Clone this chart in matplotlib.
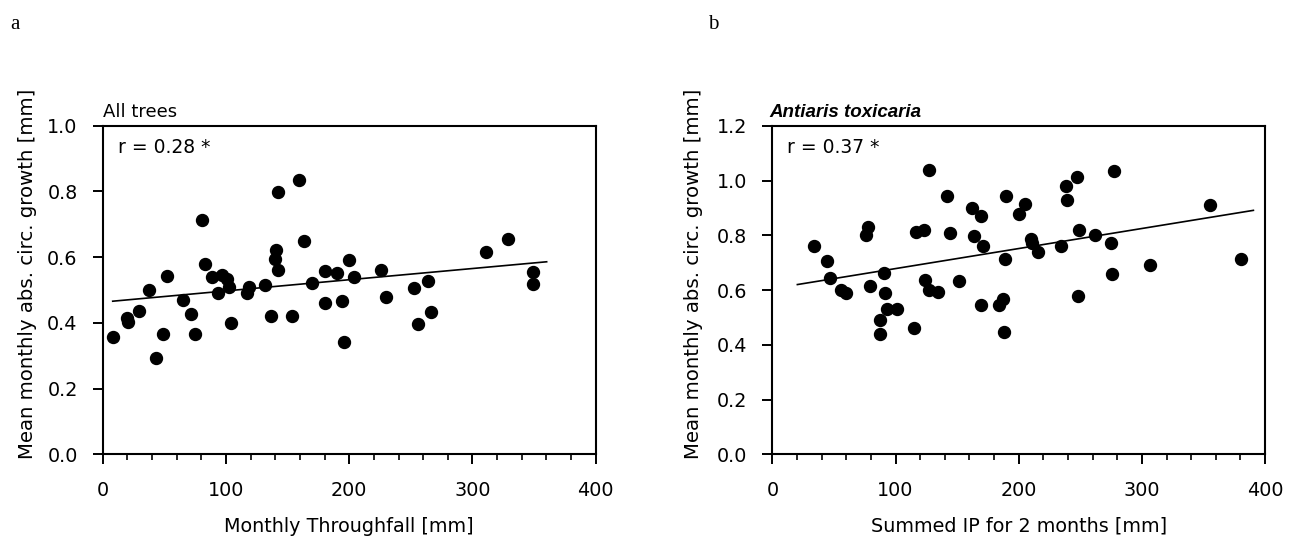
import numpy as np
import matplotlib
matplotlib.use("Agg")
import matplotlib.pyplot as plt
from matplotlib.ticker import MultipleLocator

plt.rcParams['font.family'] = ['DejaVu Sans']

# panel a: all trees
tf_x = [8.1, 20.0, 20.6, 29.7, 37.3, 43.0, 48.7, 51.9, 65.4, 71.4, 74.9, 80.3,
        82.8, 88.7, 93.3, 96.5, 100.6, 102.8, 104.1, 117.1, 118.7, 131.4, 136.6,
        139.8, 140.4, 142.5, 142.3, 153.3, 159.0, 163.4, 169.6, 180.1, 180.4,
        190.1, 194.2, 196.1, 199.9, 203.9, 225.8, 229.9, 252.9, 255.6, 264.0,
        266.1, 311.0, 328.9, 349.4, 349.4]
tf_y = [0.358, 0.416, 0.404, 0.437, 0.500, 0.292, 0.365, 0.544, 0.470, 0.427,
        0.367, 0.714, 0.579, 0.540, 0.490, 0.545, 0.534, 0.510, 0.399, 0.492,
        0.508, 0.514, 0.422, 0.593, 0.622, 0.561, 0.799, 0.422, 0.834, 0.650,
        0.521, 0.461, 0.557, 0.553, 0.468, 0.342, 0.592, 0.541, 0.561, 0.479,
        0.505, 0.396, 0.526, 0.432, 0.616, 0.655, 0.556, 0.518]
tf_fit_x = [8.1, 360.2]
tf_fit_y = [0.466, 0.586]

# panel b: Antiaris toxicaria
ip_x = [34.1, 44.7, 47.1, 55.5, 59.8, 76.0, 77.9, 79.6, 87.4, 87.7, 90.9, 91.7,
        93.1, 101.2, 115.0, 116.6, 123.4, 123.7, 127.2, 127.5, 134.2, 141.8,
        144.5, 151.8, 161.8, 164.0, 169.4, 169.4, 171.3, 183.8, 187.0, 188.1,
        189.2, 189.4, 200.5, 204.9, 210.0, 210.6, 215.7, 234.1, 238.4, 239.5,
        247.1, 248.2, 249.0, 262.0, 275.0, 275.8, 277.7, 306.4, 355.6, 380.5]
ip_y = [0.762, 0.705, 0.644, 0.600, 0.588, 0.800, 0.829, 0.615, 0.489, 0.439,
        0.662, 0.589, 0.530, 0.529, 0.460, 0.811, 0.820, 0.635, 1.037, 0.601,
        0.593, 0.943, 0.809, 0.632, 0.901, 0.796, 0.872, 0.544, 0.762, 0.545,
        0.568, 0.445, 0.713, 0.945, 0.878, 0.915, 0.787, 0.772, 0.738, 0.760,
        0.979, 0.930, 1.011, 0.579, 0.821, 0.801, 0.770, 0.660, 1.033, 0.690,
        0.910, 0.712]
ip_fit_x = [20.3, 390.5]
ip_fit_y = [0.620, 0.891]

fig = plt.figure(figsize=(12.97, 5.39), dpi=100)
ax1 = fig.add_axes([0.0792, 0.1571, 0.3801, 0.6096])
ax2 = fig.add_axes([0.5955, 0.1571, 0.3799, 0.6096])


def style(ax, ymax, xlabel, ylabel_x):
    ax.set_xlim(0, 400)
    ax.set_ylim(0, ymax)
    ax.xaxis.set_major_locator(MultipleLocator(100))
    ax.xaxis.set_minor_locator(MultipleLocator(20))
    ax.yaxis.set_major_locator(MultipleLocator(0.2))
    ax.yaxis.set_major_formatter(plt.FormatStrFormatter('%.1f'))
    for s in ax.spines.values():
        s.set_linewidth(1.5)
    ax.tick_params(which='major', direction='out', length=7.5, width=1.4,
                   labelsize=13.8)
    ax.tick_params(which='minor', direction='out', length=4, width=1.2)
    ax.tick_params(axis='x', pad=12)
    ax.tick_params(axis='y', pad=10.5)
    ax.set_xlabel(xlabel, fontsize=13.8)
    ax.xaxis.set_label_coords(0.5, -0.19)
    ax.set_ylabel('Mean monthly abs. circ. growth [mm]', fontsize=14.2)
    ax.yaxis.set_label_coords(ylabel_x, 0.549)


ax1.plot(tf_x, tf_y, 'o', color='black', markersize=8.6, zorder=3)
ax1.plot(tf_fit_x, tf_fit_y, color='black', linewidth=1.2)
style(ax1, 1.0, 'Monthly Throughfall [mm]', -0.133)
ax1.text(0.0, 1.015, 'All trees', transform=ax1.transAxes, fontsize=13,
         va='bottom', ha='left')
ax1.text(0.03, 0.935, 'r = 0.28 *', transform=ax1.transAxes, fontsize=13.5,
         va='center', ha='left')

ax2.plot(ip_x, ip_y, 'o', color='black', markersize=8.6, zorder=3)
ax2.plot(ip_fit_x, ip_fit_y, color='black', linewidth=1.2)
style(ax2, 1.2, 'Summed IP for 2 months [mm]', -0.141)
ax2.text(-0.006, 1.015, 'Antiaris toxicaria', transform=ax2.transAxes,
         fontsize=13.5, fontweight='bold', fontstyle='italic',
         family='Liberation Sans', va='bottom', ha='left')
ax2.text(0.03, 0.935, 'r = 0.37 *', transform=ax2.transAxes, fontsize=13.5,
         va='center', ha='left')

fig.text(0.008, 0.955, 'a', family='Liberation Serif', fontsize=15,
         va='center', ha='left')
fig.text(0.546, 0.955, 'b', family='Liberation Serif', fontsize=15,
         va='center', ha='left')

fig.savefig('out.png', dpi=100)
